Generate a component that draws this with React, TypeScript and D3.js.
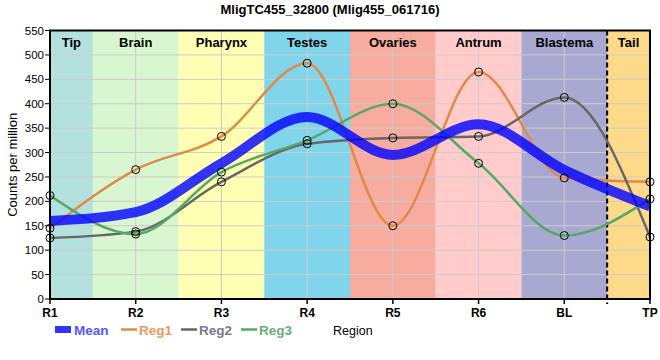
import React from 'react';
import * as d3 from 'd3';

const categories = ['R1', 'R2', 'R3', 'R4', 'R5', 'R6', 'BL', 'TP'];
const regions = ['Tip', 'Brain', 'Pharynx', 'Testes', 'Ovaries', 'Antrum', 'Blastema', 'Tail'];
const regionColors = ['#b3e2de', '#d8f6d0', '#ffffb4', '#80d5eb', '#f7ac9f', '#ffcbcb', '#a9a8d0', '#fdd98a'];
const meanValues = [160, 178, 278, 373, 295, 358, 264, 190];
const reg1Values = [145, 265, 333, 483, 150, 465, 248, 240];
const reg2Values = [125, 138, 240, 318, 330, 333, 413, 127];
const reg3Values = [212, 133, 260, 325, 400, 278, 130, 205];
const yTicks = [0, 50, 100, 150, 200, 250, 300, 350, 400, 450, 500, 550];

const series = [
  { name: 'Reg1', values: reg1Values, color: '#e08a4a', text: '#e99a60' },
  { name: 'Reg2', values: reg2Values, color: '#666666', text: '#7a7a8a' },
  { name: 'Reg3', values: reg3Values, color: '#55a866', text: '#66b078' },
];

const W = 660;
const H = 360;
const margin = { left: 50, right: 10, top: 30.5, bottom: 61 };

export default function App() {
  const x = d3
    .scalePoint<string>()
    .domain(categories)
    .range([margin.left, W - margin.right]);
  const y = d3.scaleLinear().domain([0, 550]).range([H - margin.bottom, margin.top]);
  const step = x.step();

  const line = d3
    .line<number>()
    .x((_, i) => x(categories[i]) as number)
    .y((d) => y(d))
    .curve(d3.curveMonotoneX);

  const bandX0 = (i: number) => Math.max(margin.left, (x(categories[i]) as number) - step / 2);
  const bandX1 = (i: number) => Math.min(W - margin.right, (x(categories[i]) as number) + step / 2);

  const font = 'Arial, "Liberation Sans", sans-serif';
  const x0 = margin.left;
  const x1 = W - margin.right;
  const y0 = y(0);
  const y1 = y(550);

  return (
    <svg width={W} height={H} style={{ position: 'absolute', left: 0, top: 0 }} fontFamily={font}>
      <defs>
        <clipPath id="plot">
          <rect x={x0} y={y1} width={x1 - x0} height={y0 - y1} />
        </clipPath>
      </defs>
      <text x={W / 2} y={14} textAnchor="middle" fontWeight="bold" fontSize={13}>
        MligTC455_32800 (Mlig455_061716)
      </text>
      {regions.map((r, i) => (
        <rect key={r} x={bandX0(i)} y={y1} width={bandX1(i) - bandX0(i)} height={y0 - y1} fill={regionColors[i]} />
      ))}
      {yTicks.map((t) => (
        <line key={t} x1={x0} x2={x1} y1={y(t)} y2={y(t)} stroke="#cccccc" strokeWidth={1} />
      ))}
      {categories.map((c) => (
        <line key={c} x1={x(c)} x2={x(c)} y1={y1} y2={y0} stroke="#cccccc" strokeWidth={1} />
      ))}
      {regions.map((r, i) => (
        <text key={r} x={(bandX0(i) + bandX1(i)) / 2} y={47} textAnchor="middle" fontWeight="bold" fontSize={13}>
          {r}
        </text>
      ))}
      <line
        x1={(x('BL') as number) + step / 2}
        x2={(x('BL') as number) + step / 2}
        y1={y1}
        y2={y0 + 5}
        stroke="#000"
        strokeWidth={2}
        strokeDasharray="5,3"
      />
      <g clipPath="url(#plot)">
        {series.map((s) => (
          <path key={s.name} d={line(s.values) as string} fill="none" stroke={s.color} strokeWidth={2.5} />
        ))}
        <path d={line(meanValues) as string} fill="none" stroke="#0000ff" strokeOpacity={0.8} strokeWidth={10} />
      </g>
      {series.map((s) =>
        s.values.map((v, i) => (
          <circle key={s.name + i} cx={x(categories[i])} cy={y(v)} r={4} fill="none" stroke="#000" strokeWidth={1} />
        ))
      )}
      <rect x={x0} y={y1} width={x1 - x0} height={y0 - y1} fill="none" stroke="#000" strokeWidth={2} />
      {yTicks.map((t) => (
        <g key={t}>
          <line x1={x0 - 5} x2={x0} y1={y(t)} y2={y(t)} stroke="#000" strokeWidth={1} />
          <text x={x0 - 6} y={y(t) + 4} textAnchor="end" fontSize={11.5}>
            {t}
          </text>
        </g>
      ))}
      {categories.map((c) => (
        <g key={c}>
          <line x1={x(c)} x2={x(c)} y1={y0} y2={y0 + 5} stroke="#000" strokeWidth={1.5} />
          <text x={x(c)} y={317} textAnchor="middle" fontSize={12} fontWeight="bold">
            {c}
          </text>
        </g>
      ))}
      <text transform={`translate(17,${(y0 + y1) / 2}) rotate(-90)`} textAnchor="middle" fontSize={13}>
        Counts per million
      </text>
      <text x={333} y={335} fontSize={12.5}>
        Region
      </text>
      <rect x={55} y={326} width={16} height={7} fill="#3333ff" />
      <text x={74} y={334.5} fontSize={13.5} fontWeight="bold" fill="#5555ff">
        Mean
      </text>
      {series.map((s, i) => (
        <g key={s.name} transform={`translate(${121 + i * 60},0)`}>
          <line x1={0} x2={16} y1={329.5} y2={329.5} stroke={s.color} strokeWidth={2.5} />
          <text x={18} y={334.5} fontSize={13.5} fontWeight="bold" fill={s.text}>
            {s.name}
          </text>
        </g>
      ))}
    </svg>
  );
}
